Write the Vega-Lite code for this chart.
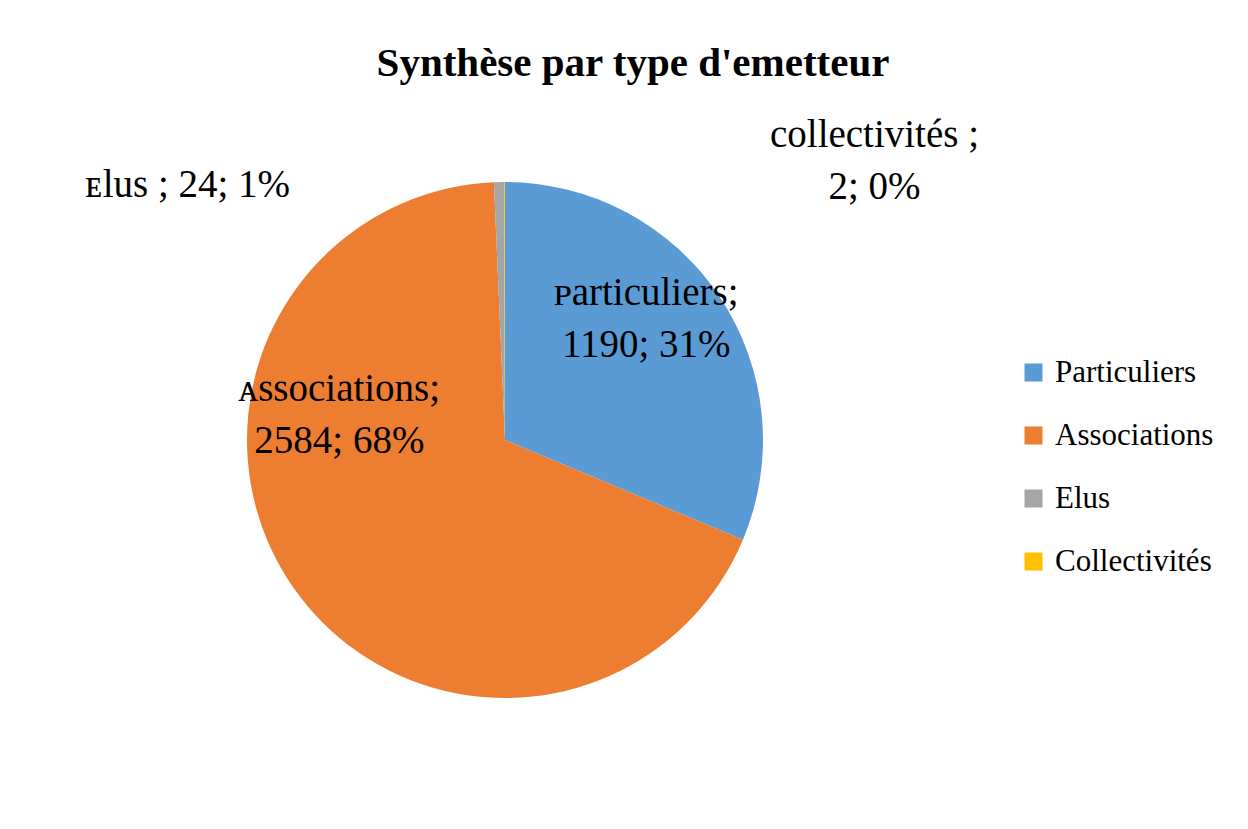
{
  "$schema": "https://vega.github.io/schema/vega-lite/v6.json",
  "width": 1010,
  "height": 738,
  "autosize": {"type": "none"},
  "padding": {"left": 0, "top": 71, "right": 238, "bottom": 20},
  "background": "white",
  "title": {
    "text": "Synthèse par type d'emetteur",
    "font": "Liberation Serif",
    "fontSize": 41,
    "fontWeight": "bold",
    "color": "black",
    "anchor": "middle",
    "dx": 128,
    "dy": 18
  },
  "config": {"view": {"stroke": null}},
  "data": {
    "values": [
      {"type": "Particuliers", "count": 1190, "ord": 1, "label": "ᴘarticuliers;\n1190; 31%"},
      {"type": "Associations", "count": 2584, "ord": 2, "label": "ᴀssociations;\n2584; 68%"},
      {"type": "Elus", "count": 24, "ord": 3, "label": "ᴇlus ; 24; 1%"},
      {"type": "Collectivités", "count": 2, "ord": 4, "label": "collectivités ;\n2; 0%"}
    ]
  },
  "encoding": {
    "theta": {"field": "count", "type": "quantitative", "stack": true},
    "order": {"field": "ord", "type": "quantitative"},
    "color": {
      "field": "type",
      "type": "nominal",
      "scale": {
        "domain": ["Particuliers", "Associations", "Elus", "Collectivités"],
        "range": ["#5B9BD5", "#ED7D31", "#A5A5A5", "#FFC000"]
      },
      "legend": {
        "title": null,
        "orient": "none",
        "legendX": 1018,
        "legendY": 286,
        "symbolType": "square",
        "symbolSize": 324,
        "symbolStrokeWidth": 0,
        "labelFont": "Liberation Serif",
        "labelFontSize": 31,
        "labelColor": "black",
        "labelOffset": 6,
        "rowPadding": 31,
        "padding": 0,
        "labelLimit": 300
      }
    }
  },
  "layer": [
    {"mark": {"type": "arc", "outerRadius": 258}},
    {
      "mark": {"type": "text", "radius": 190, "font": "Liberation Serif", "fontSize": 39, "lineBreak": "\n", "lineHeight": 52, "align": "center", "baseline": "middle", "dx": -17, "dy": -42},
      "encoding": {
        "text": {"condition": {"test": "datum.ord == 1", "field": "label"}, "value": ""},
        "color": {"value": "black"}
      }
    },
    {
      "mark": {"type": "text", "radius": 130, "font": "Liberation Serif", "fontSize": 39, "lineBreak": "\n", "lineHeight": 52, "align": "center", "baseline": "middle", "dx": -59, "dy": -125},
      "encoding": {
        "text": {"condition": {"test": "datum.ord == 2", "field": "label"}, "value": ""},
        "color": {"value": "black"}
      }
    },
    {
      "mark": {"type": "text", "radius": 255, "font": "Liberation Serif", "fontSize": 39, "align": "right", "baseline": "middle", "dx": -209},
      "encoding": {
        "text": {"condition": {"test": "datum.ord == 3", "field": "label"}, "value": ""},
        "color": {"value": "black"}
      }
    },
    {
      "mark": {"type": "text", "radius": 305, "font": "Liberation Serif", "fontSize": 39, "lineBreak": "\n", "lineHeight": 52, "align": "center", "baseline": "middle", "dx": 370},
      "encoding": {
        "text": {"condition": {"test": "datum.ord == 4", "field": "label"}, "value": ""},
        "color": {"value": "black"}
      }
    }
  ]
}
